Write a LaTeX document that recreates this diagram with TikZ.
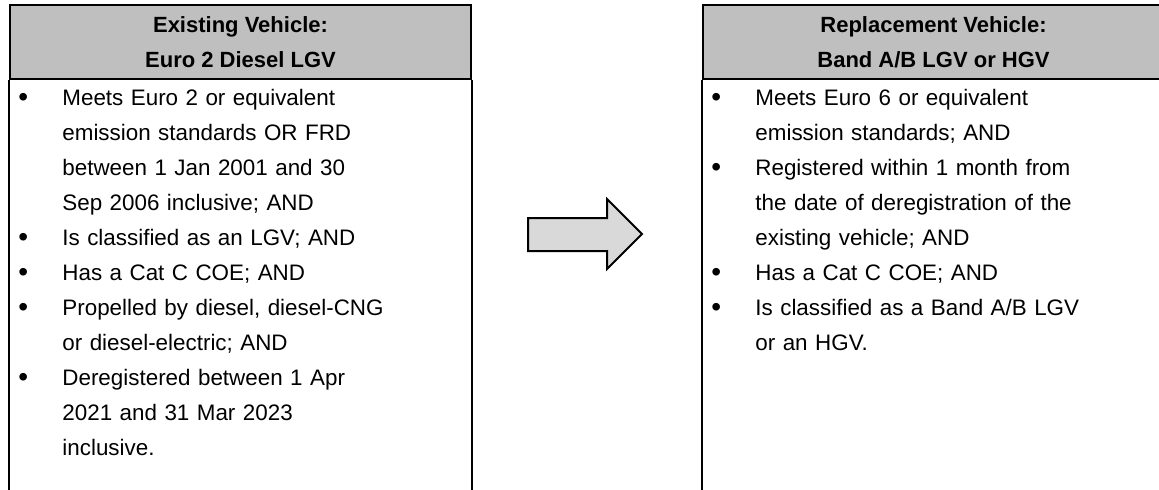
\documentclass[tikz,border=0pt]{standalone}
\usepackage{fontspec}
\setmainfont{Liberation Sans}
\setlength{\parskip}{0pt}

\newcommand{\critem}[1]{\par\hangindent=22pt\hangafter=1\noindent\makebox[22pt][l]{\raisebox{-0.3pt}{\fontsize{14}{14}\selectfont\textbullet}}#1}

\begin{document}
\begin{tikzpicture}[x=0.5pt,y=0.5pt,
    hdr/.style={draw,line width=1pt,fill=black!25,minimum width=230.5pt,minimum height=37pt,
      align=center,inner sep=0pt,font=\fontsize{11}{17.5}\selectfont\bfseries},
    crit/.style={anchor=north west,inner sep=0pt,text width=224pt,
      font=\fontsize{11.2}{17.5}\selectfont}]
  \useasboundingbox (0,0) rectangle (1159,-489);
  % headers
  \node[hdr] (oldhdr) at (240.5,-42) {Existing Vehicle:\\Euro 2 Diesel LGV};
  \node[hdr] (newhdr) at (933.5,-42) {Replacement Vehicle:\\Band A/B LGV or HGV};
  % open sides of the two boxes
  \draw[line width=1pt] (oldhdr.south west) -- ++(0,-430);
  \draw[line width=1pt] (oldhdr.south east) -- ++(0,-430);
  \draw[line width=1pt] (newhdr.south west) -- ++(0,-430);
  \draw[line width=1pt] (newhdr.south east) -- ++(0,-430);
  % criteria
  \node[crit] (oldlist) at (18,-70) {%
    \critem{\rule{0pt}{12pt}Meets Euro 2 or equivalent\newline emission standards OR FRD\newline between 1 Jan 2001 and 30\newline Sep 2006 inclusive; AND}
    \critem{Is classified as an LGV; AND}
    \critem{Has a Cat C COE; AND}
    \critem{Propelled by diesel, diesel-CNG\newline or diesel-electric; AND}
    \critem{Deregistered between 1 Apr\newline 2021 and 31 Mar 2023\newline inclusive.}\par};
  \node[crit] (newlist) at (711,-70) {%
    \critem{\rule{0pt}{12pt}Meets Euro 6 or equivalent\newline emission standards; AND}
    \critem{Registered within 1 month from\newline the date of deregistration of the\newline existing vehicle; AND}
    \critem{Has a Cat C COE; AND}
    \critem{Is classified as a Band A/B LGV\newline or an HGV.}\par};
  % arrow between the boxes
  \draw[line width=1pt,fill=black!15] (528,-218) -- (607,-218) -- (607,-199) -- (642,-234)
    -- (607,-269) -- (607,-251) -- (528,-251) -- cycle;
\end{tikzpicture}
\end{document}
